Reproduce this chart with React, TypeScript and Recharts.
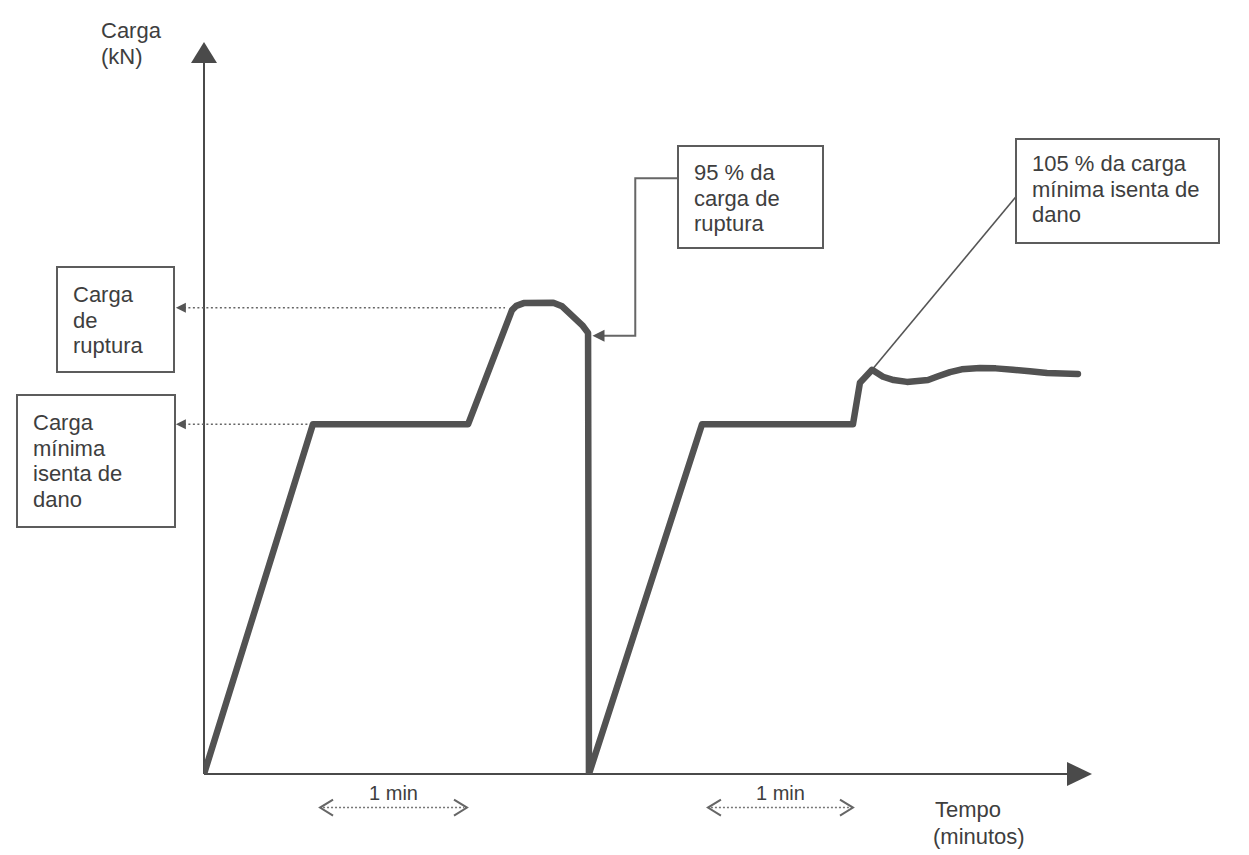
import { LineChart, Line, XAxis, YAxis, ReferenceLine } from 'recharts';

// curva de carga x tempo (tempo em min, carga em % da carga de ruptura)
const tempo = [0, 0.736, 1.784, 2.081, 2.11, 2.16, 2.36, 2.42, 2.49, 2.56, 2.595, 2.601, 3.365, 4.385, 4.432, 4.514, 4.588, 4.66, 4.75, 4.892, 4.96, 5.041, 5.12, 5.243, 5.35, 5.466, 5.58, 5.696, 5.905];
const carga = [0, 75, 75, 99.5, 100.4, 101, 101.1, 100.3, 98.2, 96.1, 94.6, 0, 75, 75, 83.9, 86.7, 85.2, 84.5, 84.1, 84.5, 85.3, 86.2, 86.8, 87.1, 87, 86.7, 86.4, 86, 85.8];

const CARGA_RUPTURA = 100;
const CARGA_MINIMA = 75;
const T_MAX = 6;
const C_MAX = 157;

// pontos de ancoragem das anotações (mesmas unidades do gráfico)
const inicioNiveis = -0.19;
const fimRuptura = 2.034;
const fimMinima = 0.736;
const intervalos = [
  [0.784, 1.777],
  [3.405, 4.385],
];
const cargaIntervalo = -7.2;
const seta95 = [[3.203, 127.8], [2.625, 94]];
const seta105 = [[5.486, 123.8], [4.514, 86.7]];

const data = tempo.map((t, i) => ({ t, carga: carga[i] }));

const INK = '#4a4a4a';
const TEXT = '#3e3e3e';
const FONT = '"Liberation Sans", Arial, sans-serif';

const AxisY = ({ x1, y1, x2, y2 }: any) => (
  <g>
    <line x1={x1} y1={y1} x2={x2} y2={y2 + 18} stroke={INK} strokeWidth={2} />
    <path d={`M${x2},${y2} L${x2 - 13},${y2 + 21} L${x2 + 13},${y2 + 21} Z`} fill={INK} />
  </g>
);

const AxisX = ({ x1, y1, x2, y2 }: any) => (
  <g>
    <line x1={x1} y1={y1} x2={x2 - 20} y2={y2} stroke={INK} strokeWidth={2} />
    <path d={`M${x2},${y2} L${x2 - 25},${y2 - 12} L${x2 - 25},${y2 + 12} Z`} fill={INK} />
  </g>
);

const Nivel = ({ x1, y1, x2, y2 }: any) => (
  <g>
    <line x1={x1 + 8} y1={y1} x2={x2} y2={y2} stroke="#666" strokeWidth={1.5} strokeDasharray="2 2.5" />
    <path d={`M${x1},${y1} L${x1 + 10},${y1 - 5} L${x1 + 10},${y1 + 5} Z`} fill="#555" />
  </g>
);

const Intervalo = ({ x1, y1, x2, y2 }: any) => (
  <g>
    <line x1={x1 + 3} y1={y1} x2={x2 - 3} y2={y2} stroke="#777" strokeWidth={1.5} strokeDasharray="2 2" />
    <path d={`M${x1 + 13},${y1 - 8} L${x1},${y1} L${x1 + 13},${y1 + 8}`} fill="none" stroke="#666" strokeWidth={2} />
    <path d={`M${x2 - 13},${y2 - 8} L${x2},${y2} L${x2 - 13},${y2 + 8}`} fill="none" stroke="#666" strokeWidth={2} />
    <text x={(x1 + x2) / 2} y={y1 - 8} textAnchor="middle" fontSize={20} fontFamily={FONT} fill={TEXT}>
      1 min
    </text>
  </g>
);

const Cotovelo = ({ x1, y1, x2, y2 }: any) => {
  const xm = x2 + (x1 - x2) * 0.5;
  return (
    <g>
      <path d={`M${x1},${y1} H${xm} V${y2} H${x2 + 8}`} fill="none" stroke="#666" strokeWidth={2} />
      <path d={`M${x2},${y2} L${x2 + 12},${y2 - 6} L${x2 + 12},${y2 + 6} Z`} fill="#555" />
    </g>
  );
};

const Fina = ({ x1, y1, x2, y2 }: any) => (
  <line x1={x1} y1={y1} x2={x2} y2={y2} stroke="#555" strokeWidth={1.6} />
);

const Caixa = ({ x, y, w, h, linhas, top }: { x: number; y: number; w: number; h: number; linhas: string[]; top: number }) => (
  <g>
    <rect x={x} y={y} width={w} height={h} fill="#fff" stroke="#5c5c5c" strokeWidth={2} />
    <text fontSize={22} fontFamily={FONT} fill={TEXT}>
      {linhas.map((l, i) => (
        <tspan key={i} x={x + 16} y={top + i * 25.5}>
          {l}
        </tspan>
      ))}
    </text>
  </g>
);

export default function App() {
  return (
    <div style={{ position: 'absolute', left: 0, top: 0, width: 1249, height: 855, background: '#fff' }}>
      <LineChart
        width={1249}
        height={855}
        data={data}
        margin={{ top: 42, right: 157, bottom: 81, left: 204 }}
        style={{ position: 'absolute', left: 0, top: 0 }}
      >
        <XAxis dataKey="t" type="number" domain={[0, T_MAX]} allowDataOverflow hide />
        <YAxis type="number" domain={[0, C_MAX]} allowDataOverflow hide />
        <ReferenceLine segment={[{ x: 0, y: 0 }, { x: 0, y: C_MAX }]} ifOverflow="visible" shape={AxisY} />
        <ReferenceLine segment={[{ x: 0, y: 0 }, { x: T_MAX, y: 0 }]} ifOverflow="visible" shape={AxisX} />
        <ReferenceLine
          segment={[{ x: inicioNiveis, y: CARGA_RUPTURA }, { x: fimRuptura, y: CARGA_RUPTURA }]}
          ifOverflow="visible"
          shape={Nivel}
        />
        <ReferenceLine
          segment={[{ x: inicioNiveis, y: CARGA_MINIMA }, { x: fimMinima, y: CARGA_MINIMA }]}
          ifOverflow="visible"
          shape={Nivel}
        />
        {intervalos.map(([a, b], i) => (
          <ReferenceLine
            key={i}
            segment={[{ x: a, y: cargaIntervalo }, { x: b, y: cargaIntervalo }]}
            ifOverflow="visible"
            shape={Intervalo}
          />
        ))}
        <ReferenceLine
          segment={[{ x: seta95[0][0], y: seta95[0][1] }, { x: seta95[1][0], y: seta95[1][1] }]}
          ifOverflow="visible"
          shape={Cotovelo}
        />
        <ReferenceLine
          segment={[{ x: seta105[0][0], y: seta105[0][1] }, { x: seta105[1][0], y: seta105[1][1] }]}
          ifOverflow="visible"
          shape={Fina}
        />
        <Line
          type="linear"
          dataKey="carga"
          stroke="#525252"
          strokeWidth={6.5}
          strokeLinejoin="round"
          strokeLinecap="round"
          dot={false}
          isAnimationActive={false}
        />
      </LineChart>
      <svg width={1249} height={855} style={{ position: 'absolute', left: 0, top: 0, pointerEvents: 'none' }}>
        <text fontSize={22} fontFamily={FONT} fill={TEXT}>
          <tspan x={101} y={38}>Carga</tspan>
          <tspan x={101} y={64}>(kN)</tspan>
        </text>
        <text fontSize={22} fontFamily={FONT} fill={TEXT}>
          <tspan x={935} y={817}>Tempo</tspan>
          <tspan x={933} y={844}>(minutos)</tspan>
        </text>
        <Caixa x={57} y={267} w={117} h={105} top={302} linhas={['Carga', 'de', 'ruptura']} />
        <Caixa x={17} y={395} w={158} h={132} top={430} linhas={['Carga', 'mínima', 'isenta de', 'dano']} />
        <Caixa x={678} y={146} w={145} h={102} top={180} linhas={['95 % da', 'carga de', 'ruptura']} />
        <Caixa x={1016} y={139} w={203} h={104} top={171} linhas={['105 % da carga', 'mínima isenta de', 'dano']} />
      </svg>
    </div>
  );
}
